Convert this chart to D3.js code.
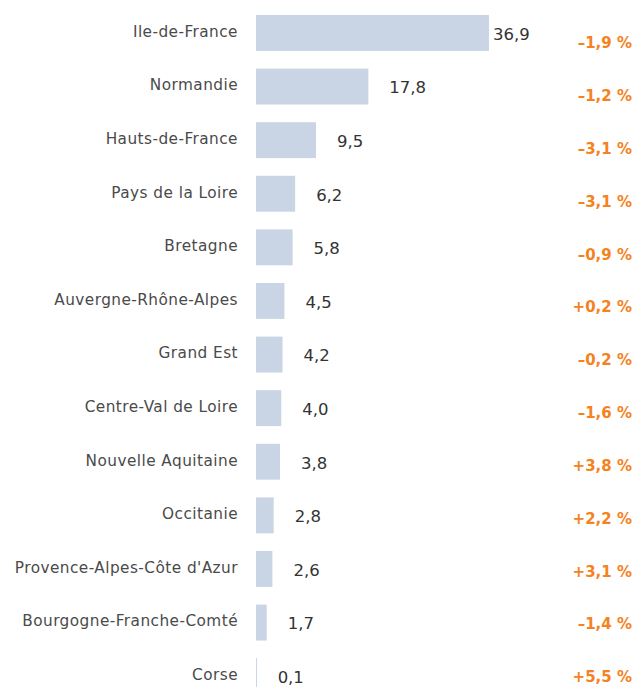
<!DOCTYPE html>
<html>
<head>
<meta charset="utf-8">
<script src="https://cdn.jsdelivr.net/npm/d3@7"></script>
<style>
  body { margin: 0; background: #fff; }
  svg { display: block; font-family: "DejaVu Sans", sans-serif; }
</style>
</head>
<body>
<svg id="chart"></svg>
<script>
var regions = ["Ile-de-France", "Normandie", "Hauts-de-France", "Pays de la Loire", "Bretagne",
    "Auvergne-Rhône-Alpes", "Grand Est", "Centre-Val de Loire", "Nouvelle Aquitaine", "Occitanie",
    "Provence-Alpes-Côte d'Azur", "Bourgogne-Franche-Comté", "Corse"];
var values = [36.9, 17.8, 9.5, 6.2, 5.8, 4.5, 4.2, 4.0, 3.8, 2.8, 2.6, 1.7, 0.1];
var changes = ["–1,9 %", "–1,2 %", "–3,1 %", "–3,1 %", "–0,9 %", "+0,2 %", "–0,2 %",
    "–1,6 %", "+3,8 %", "+2,2 %", "+3,1 %", "–1,4 %", "+5,5 %"];

var svgWidth = 635, svgHeight = 687;
var svg = d3.select('#chart')
    .attr("width", svgWidth)
    .attr("height", svgHeight);

var xScale = d3.scaleLinear()
    .domain([0, 40])
    .range([256, 508.5]);

var yScale = d3.scaleBand()
    .domain(regions)
    .range([-2.7, 711.8])
    .paddingInner(0.33)
    .paddingOuter(0.33);

// the percentage column sits on its own slightly tighter grid
var yChange = d3.scalePoint()
    .domain(regions)
    .range([43, 677]);

var formatValue = function(v) { return v.toFixed(1).replace('.', ','); };

var rows = svg.selectAll('g.row')
    .data(regions)
    .enter()
    .append('g')
    .attr('class', 'row');

// bars
rows.append('rect')
    .attr('x', xScale(0))
    .attr('y', (d) => yScale(d))
    .attr('width', (d, i) => Math.max(1, xScale(values[i]) - xScale(0)))
    .attr('height', yScale.bandwidth())
    .attr('fill', '#c9d5e5');

// region names
rows.append('text')
    .attr('x', 238)
    .attr('y', (d) => yScale(d) + yScale.bandwidth() / 2 - 1.5)
    .attr('dy', '0.35em')
    .attr('text-anchor', 'end')
    .attr('font-size', 15.3)
    .attr('letter-spacing', 0.45)
    .attr('fill', '#4a4a4a')
    .text((d) => d);

// values
rows.append('text')
    .attr('x', (d, i) => Math.min(xScale(values[i]) + 21, 493))
    .attr('y', (d) => yScale(d) + yScale.bandwidth() / 2 + 1)
    .attr('dy', '0.35em')
    .attr('font-size', 16.5)
    .attr('fill', '#333')
    .text((d, i) => formatValue(values[i]));

// change vs previous year
rows.append('text')
    .attr('x', 632)
    .attr('y', (d) => yChange(d))
    .attr('dy', '0.35em')
    .attr('text-anchor', 'end')
    .attr('font-size', 15)
    .attr('font-weight', 'bold')
    .attr('fill', '#f58220')
    .text((d, i) => changes[i]);
</script>
</body>
</html>
